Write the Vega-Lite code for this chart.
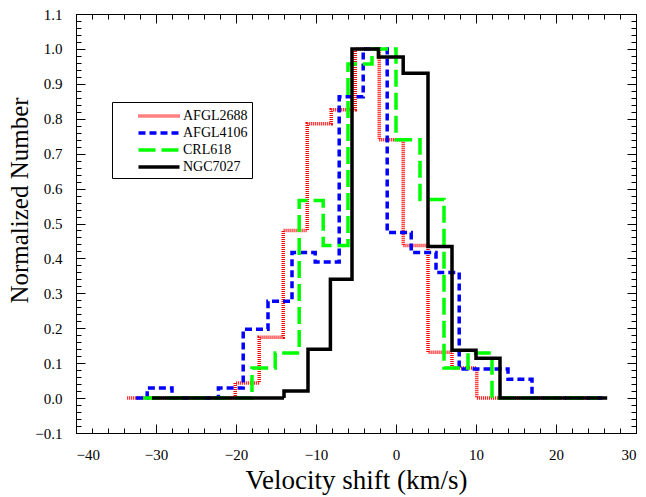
{
  "$schema": "https://vega.github.io/schema/vega-lite/v6.json",
  "autosize": {"type": "none"},
  "padding": {"left": 76, "top": 14, "right": 10, "bottom": 64},
  "width": 560,
  "height": 419,
  "background": "white",
  "config": {
    "view": {"stroke": "black", "strokeWidth": 1},
    "font": "Liberation Serif",
    "axis": {"labelFont": "Liberation Serif", "titleFont": "Liberation Serif"},
    "legend": {"labelFont": "Liberation Serif", "titleFont": "Liberation Serif"},
    "style": {"guide-label": {"font": "Liberation Serif"}, "guide-title": {"font": "Liberation Serif"}}
  },
  "data": {"values": [
    {"series": "AFGL2688", "v": -33.6, "n": 0},
    {"series": "AFGL2688", "v": -20.1, "n": 0.043},
    {"series": "AFGL2688", "v": -17.1, "n": 0.174},
    {"series": "AFGL2688", "v": -14.1, "n": 0.48},
    {"series": "AFGL2688", "v": -11.1, "n": 0.786},
    {"series": "AFGL2688", "v": -8.1, "n": 0.826},
    {"series": "AFGL2688", "v": -5.1, "n": 1.0},
    {"series": "AFGL2688", "v": -2.1, "n": 0.74},
    {"series": "AFGL2688", "v": 0.9, "n": 0.437},
    {"series": "AFGL2688", "v": 4.0, "n": 0.131},
    {"series": "AFGL2688", "v": 7.0, "n": 0.086},
    {"series": "AFGL2688", "v": 10.1, "n": 0},
    {"series": "AFGL2688", "v": 25.5, "n": 0},
    {"series": "AFGL4106", "v": -32.5, "n": 0},
    {"series": "AFGL4106", "v": -31.1, "n": 0.029},
    {"series": "AFGL4106", "v": -28.0, "n": 0},
    {"series": "AFGL4106", "v": -22.2, "n": 0.029},
    {"series": "AFGL4106", "v": -19.1, "n": 0.197},
    {"series": "AFGL4106", "v": -16.0, "n": 0.277},
    {"series": "AFGL4106", "v": -13.0, "n": 0.417},
    {"series": "AFGL4106", "v": -10.1, "n": 0.39},
    {"series": "AFGL4106", "v": -7.1, "n": 0.863},
    {"series": "AFGL4106", "v": -4.1, "n": 1.0},
    {"series": "AFGL4106", "v": -1.1, "n": 0.474},
    {"series": "AFGL4106", "v": 1.9, "n": 0.417},
    {"series": "AFGL4106", "v": 5.0, "n": 0.36},
    {"series": "AFGL4106", "v": 7.9, "n": 0.083},
    {"series": "AFGL4106", "v": 14.0, "n": 0.054},
    {"series": "AFGL4106", "v": 17.0, "n": 0},
    {"series": "AFGL4106", "v": 25.8, "n": 0},
    {"series": "CRL618", "v": -31.6, "n": 0},
    {"series": "CRL618", "v": -18.0, "n": 0.086},
    {"series": "CRL618", "v": -15.1, "n": 0.129},
    {"series": "CRL618", "v": -12.1, "n": 0.566},
    {"series": "CRL618", "v": -9.1, "n": 0.437},
    {"series": "CRL618", "v": -6.0, "n": 0.957},
    {"series": "CRL618", "v": -3.0, "n": 1.0},
    {"series": "CRL618", "v": 0.0, "n": 0.74},
    {"series": "CRL618", "v": 3.0, "n": 0.569},
    {"series": "CRL618", "v": 6.0, "n": 0.086},
    {"series": "CRL618", "v": 9.0, "n": 0.129},
    {"series": "CRL618", "v": 12.0, "n": 0},
    {"series": "CRL618", "v": 25.2, "n": 0},
    {"series": "NGC7027", "v": -30.5, "n": 0},
    {"series": "NGC7027", "v": -14.0, "n": 0.02},
    {"series": "NGC7027", "v": -11.0, "n": 0.14},
    {"series": "NGC7027", "v": -8.2, "n": 0.34},
    {"series": "NGC7027", "v": -5.5, "n": 1.0},
    {"series": "NGC7027", "v": -2.2, "n": 0.977},
    {"series": "NGC7027", "v": 0.9, "n": 0.93},
    {"series": "NGC7027", "v": 4.0, "n": 0.434},
    {"series": "NGC7027", "v": 7.0, "n": 0.137},
    {"series": "NGC7027", "v": 10.0, "n": 0.114},
    {"series": "NGC7027", "v": 13.0, "n": 0},
    {"series": "NGC7027", "v": 26.4, "n": 0}
  ]},
  "layer": [
    {
      "mark": {"type": "line", "interpolate": "step-after", "strokeWidth": 3.5},
      "encoding": {
        "x": {"field": "v", "type": "quantitative",
          "scale": {"domain": [-40, 30], "nice": false, "zero": false},
          "title": "Velocity shift (km/s)",
          "axis": {
            "orient": "bottom", "grid": false, "domainColor": "black",
            "values": [-40,-38,-36,-34,-32,-30,-28,-26,-24,-22,-20,-18,-16,-14,-12,-10,-8,-6,-4,-2,0,2,4,6,8,10,12,14,16,18,20,22,24,26,28,30],
            "labelExpr": "abs(datum.value % 10) < 0.001 ? datum.label : ''",
            "tickSize": {"condition": {"test": "abs(datum.value % 10) < 0.001", "value": -9}, "value": -5},
            "tickColor": "black", "labelColor": "black", "labelFontSize": 15,
            "labelFont": "Liberation Serif", "labelPadding": 23, "labelOverlap": false,
            "titleFont": "Liberation Serif", "titleFontSize": 27, "titleFontWeight": "normal",
            "titleColor": "black", "titlePadding": 1
          }
        },
        "y": {"field": "n", "type": "quantitative",
          "scale": {"domain": [-0.1, 1.1], "nice": false, "zero": false},
          "title": "Normalized Number",
          "axis": {
            "orient": "left", "grid": false, "domainColor": "black",
            "values": [-0.1,-0.08,-0.06,-0.04,-0.02,0,0.02,0.04,0.06,0.08,0.1,0.12,0.14,0.16,0.18,0.2,0.22,0.24,0.26,0.28,0.3,0.32,0.34,0.36,0.38,0.4,0.42,0.44,0.46,0.48,0.5,0.52,0.54,0.56,0.58,0.6,0.62,0.64,0.66,0.68,0.7,0.72,0.74,0.76,0.78,0.8,0.82,0.84,0.86,0.88,0.9,0.92,0.94,0.96,0.98,1.0,1.02,1.04,1.06,1.08,1.1],
            "format": ".1f",
            "labelExpr": "abs(datum.value*10 - round(datum.value*10)) < 0.001 ? datum.label : ''",
            "tickSize": {"condition": {"test": "abs(datum.value*10 - round(datum.value*10)) < 0.001", "value": -9}, "value": -5},
            "tickColor": "black", "labelColor": "black", "labelFontSize": 15,
            "labelFont": "Liberation Serif", "labelPadding": 23, "labelOverlap": false,
            "titleFont": "Liberation Serif", "titleFontSize": 25, "titleFontWeight": "normal",
            "titleColor": "black", "titlePadding": 2, "titleY": 186
          }
        },
        "color": {"field": "series", "type": "nominal",
          "scale": {"domain": ["AFGL2688", "AFGL4106", "CRL618", "NGC7027"], "range": ["#ff0000", "#0000ff", "#00ff00", "#000000"]},
          "legend": {
            "title": null, "orient": "none", "legendX": 36, "legendY": 88,
            "strokeColor": "black", "padding": 4, "fillColor": "white",
            "symbolType": "M-2.5,0H2.5", "symbolSize": 269, "symbolStrokeWidth": 3.5,
            "symbolOffset": 33,
            "labelFont": "Liberation Serif", "labelFontSize": 14, "labelColor": "black",
            "labelOffset": 14, "rowPadding": 0
          }
        },
        "strokeDash": {"field": "series", "type": "nominal",
          "scale": {"domain": ["AFGL2688", "AFGL4106", "CRL618", "NGC7027"], "range": [[1, 1], [7, 4], [17, 6], [1, 0]]},
          "legend": null
        }
      }
    },
    {
      "mark": {"type": "point", "opacity": 0},
      "encoding": {
        "x": {"field": "v", "type": "quantitative",
          "axis": {
            "orient": "top", "grid": false, "labels": false, "title": null, "domainColor": "black",
            "values": [-40,-38,-36,-34,-32,-30,-28,-26,-24,-22,-20,-18,-16,-14,-12,-10,-8,-6,-4,-2,0,2,4,6,8,10,12,14,16,18,20,22,24,26,28,30],
            "tickSize": {"condition": {"test": "abs(datum.value % 10) < 0.001", "value": -9}, "value": -5},
            "tickColor": "black"
          }
        },
        "y": {"field": "n", "type": "quantitative",
          "axis": {
            "orient": "right", "grid": false, "labels": false, "title": null, "domainColor": "black",
            "values": [-0.1,-0.08,-0.06,-0.04,-0.02,0,0.02,0.04,0.06,0.08,0.1,0.12,0.14,0.16,0.18,0.2,0.22,0.24,0.26,0.28,0.3,0.32,0.34,0.36,0.38,0.4,0.42,0.44,0.46,0.48,0.5,0.52,0.54,0.56,0.58,0.6,0.62,0.64,0.66,0.68,0.7,0.72,0.74,0.76,0.78,0.8,0.82,0.84,0.86,0.88,0.9,0.92,0.94,0.96,0.98,1.0,1.02,1.04,1.06,1.08,1.1],
            "tickSize": {"condition": {"test": "abs(datum.value*10 - round(datum.value*10)) < 0.001", "value": -9}, "value": -5},
            "tickColor": "black"
          }
        }
      }
    }
  ],
  "resolve": {"axis": {"x": "independent", "y": "independent"}}
}
